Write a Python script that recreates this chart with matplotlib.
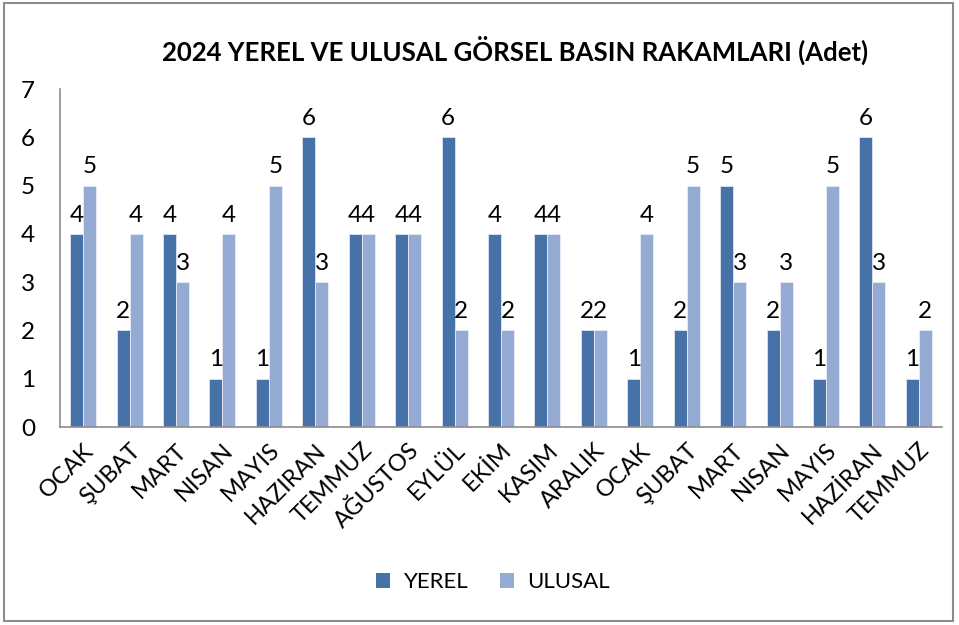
import matplotlib
matplotlib.use("Agg")
import matplotlib.pyplot as plt
import numpy as np
from matplotlib.patches import Rectangle, Patch

plt.rcParams['font.family'] = ['Lato', 'DejaVu Sans']

months = ["OCAK", "ŞUBAT", "MART", "NISAN", "MAYIS", "HAZIRAN", "TEMMUZ", "AĞUSTOS",
          "EYLÜL", "EKİM", "KASIM", "ARALIK", "OCAK", "ŞUBAT", "MART", "NISAN",
          "MAYIS", "HAZİRAN", "TEMMUZ"]
yerel = [4, 2, 4, 1, 1, 6, 4, 4, 6, 4, 4, 2, 1, 2, 5, 2, 1, 6, 1]
ulusal = [5, 4, 3, 4, 5, 3, 4, 4, 2, 2, 4, 2, 4, 5, 3, 3, 5, 3, 2]
title = "2024 YEREL VE ULUSAL GÖRSEL BASIN RAKAMLARI (Adet)"

c_yerel = "#4672A8"
c_ulusal = "#95ABD3"

fig = plt.figure(figsize=(9.59, 6.25), dpi=100)
ax = fig.add_axes([60/959, 1-427/625, 882/959, (427-89)/625])

x = np.arange(len(months))
w = 0.28
b1 = ax.bar(x - w/2, yerel, w, color=c_yerel, edgecolor="#DCE6F2", linewidth=0.6, label="YEREL")
b2 = ax.bar(x + w/2, ulusal, w, color=c_ulusal, edgecolor="#E6ECF6", linewidth=0.6, label="ULUSAL")
ax.bar_label(b1, padding=6, fontsize=17.5)
ax.bar_label(b2, padding=6, fontsize=17.5)

ax.set_xlim(-0.5, len(months) - 0.5)
ax.set_ylim(0, 7)
ax.set_yticks(range(0, 8))
ax.tick_params(axis='y', length=0, labelsize=17.5, pad=18)
ax.set_xticks(x)
ax.set_xticklabels(months, rotation=45, ha='right', rotation_mode='anchor', fontsize=17)
ax.tick_params(axis='x', length=0, pad=9)
for s in ["top", "right"]:
    ax.spines[s].set_visible(False)
for s in ["left", "bottom"]:
    ax.spines[s].set_color("#8C8C8C")
    ax.spines[s].set_linewidth(1.2)

fig.text(515/959, 1-50/625, title, ha='center', va='center', fontsize=18.5, fontweight='bold')

handles = [Patch(facecolor=c_yerel, edgecolor='none'), Patch(facecolor=c_ulusal, edgecolor='none')]
fig.legend(handles=handles, labels=["YEREL", "ULUSAL"], loc='center', bbox_to_anchor=(493/959, 1-582/625),
           ncol=2, frameon=False, fontsize=16, handlelength=0.65, handleheight=0.65, columnspacing=1.4,
           handletextpad=0.6)

fig.patches.append(Rectangle((4/959, 1-621/625), 949/959, 618/625, transform=fig.transFigure,
                             fill=False, edgecolor="#8C8C8C", linewidth=1.5))

fig.savefig("out.png", dpi=100)
